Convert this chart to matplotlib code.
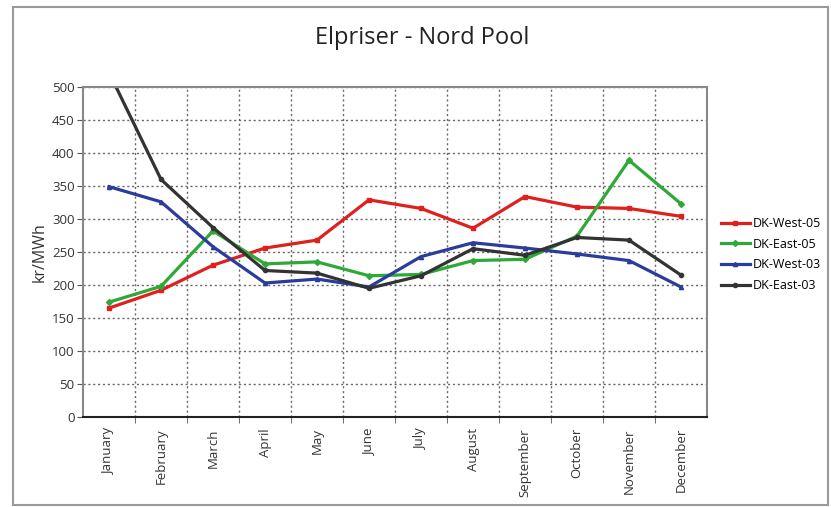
import numpy as np
import matplotlib
matplotlib.use("Agg")
import matplotlib.pyplot as plt
from matplotlib.patches import Rectangle

plt.rcParams['font.family'] = ['Open Sans', 'DejaVu Sans']

# Data (kr/MWh)
months = ["January", "February", "March", "April", "May", "June", "July",
          "August", "September", "October", "November", "December"]
dk_west_05 = [165, 192, 230, 256, 268, 329, 316, 286, 334, 318, 316, 304]
dk_east_05 = [174, 198, 282, 232, 235, 214, 216, 237, 239, 274, 389, 323]
dk_west_03 = [349, 326, 258, 203, 209, 197, 243, 264, 256, 247, 237, 197]
dk_east_03 = [522, 360, 287, 222, 218, 195, 214, 255, 245, 272, 268, 215]

series = [
    ("DK-West-05", dk_west_05, "#e0201f", "s"),
    ("DK-East-05", dk_east_05, "#2ea836", "D"),
    ("DK-West-03", dk_west_03, "#2a3c9c", "^"),
    ("DK-East-03", dk_east_03, "#333333", "o"),
]

W, H = 831, 507
fig = plt.figure(figsize=(W / 100, H / 100), dpi=100)

# outer frame
fig.patches.append(Rectangle((13 / W, 1 - 505 / H), (828 - 13) / W, (505 - 7) / H,
                             transform=fig.transFigure, fill=False,
                             edgecolor="#9a9a9a", linewidth=1.5))

ax = fig.add_axes([83 / W, 1 - 417 / H, (707 - 83) / W, (417 - 87) / H])

x = np.arange(len(months))
for name, vals, col, mk in series:
    ax.plot(x, vals, color=col, linewidth=2.3, marker=mk, markersize=3,
            label=name)

ax.set_xlim(-0.5, len(months) - 0.5)
ax.set_ylim(0, 500)
ax.set_yticks(np.arange(0, 501, 50))
ax.set_xticks(x)
ax.set_xticklabels(months, rotation=90, fontsize=9.5, color="#333333")
ax.set_xticks(np.arange(0.5, len(months) - 0.5, 1), minor=True)
ax.tick_params(axis='x', which='major', length=0, pad=8)
ax.tick_params(axis='x', which='minor', length=4, direction='out', color="#555555")
ax.tick_params(axis='y', length=4, direction='out', labelsize=9.5, color="#555555",
               labelcolor="#333333", pad=2)

ax.grid(axis='y', which='major', linestyle=(0, (1.5, 2)), color="#666666", linewidth=1)
ax.grid(axis='x', which='minor', linestyle=(0, (1.5, 2)), color="#666666", linewidth=1)

for s in ["top", "right"]:
    ax.spines[s].set_color("#888888")
    ax.spines[s].set_linewidth(1.5)
ax.spines["left"].set_color("#888888")
ax.spines["left"].set_linewidth(1.5)
ax.spines["bottom"].set_color("#222222")
ax.spines["bottom"].set_linewidth(1.5)

ax.set_ylabel("kr/MWh", fontsize=11.5, color="#333333", labelpad=3)
fig.text(422 / W, 1 - 38 / H, "Elpriser - Nord Pool", ha="center", va="center",
         fontsize=17, color="#222222")

ax.legend(loc="upper left", bbox_to_anchor=(716 / W, 1 - 212 / H),
          bbox_transform=fig.transFigure, frameon=False, fontsize=9,
          handlelength=2.3, handletextpad=0.2, labelspacing=0.62,
          borderaxespad=0)

fig.savefig("out.png", dpi=100)
